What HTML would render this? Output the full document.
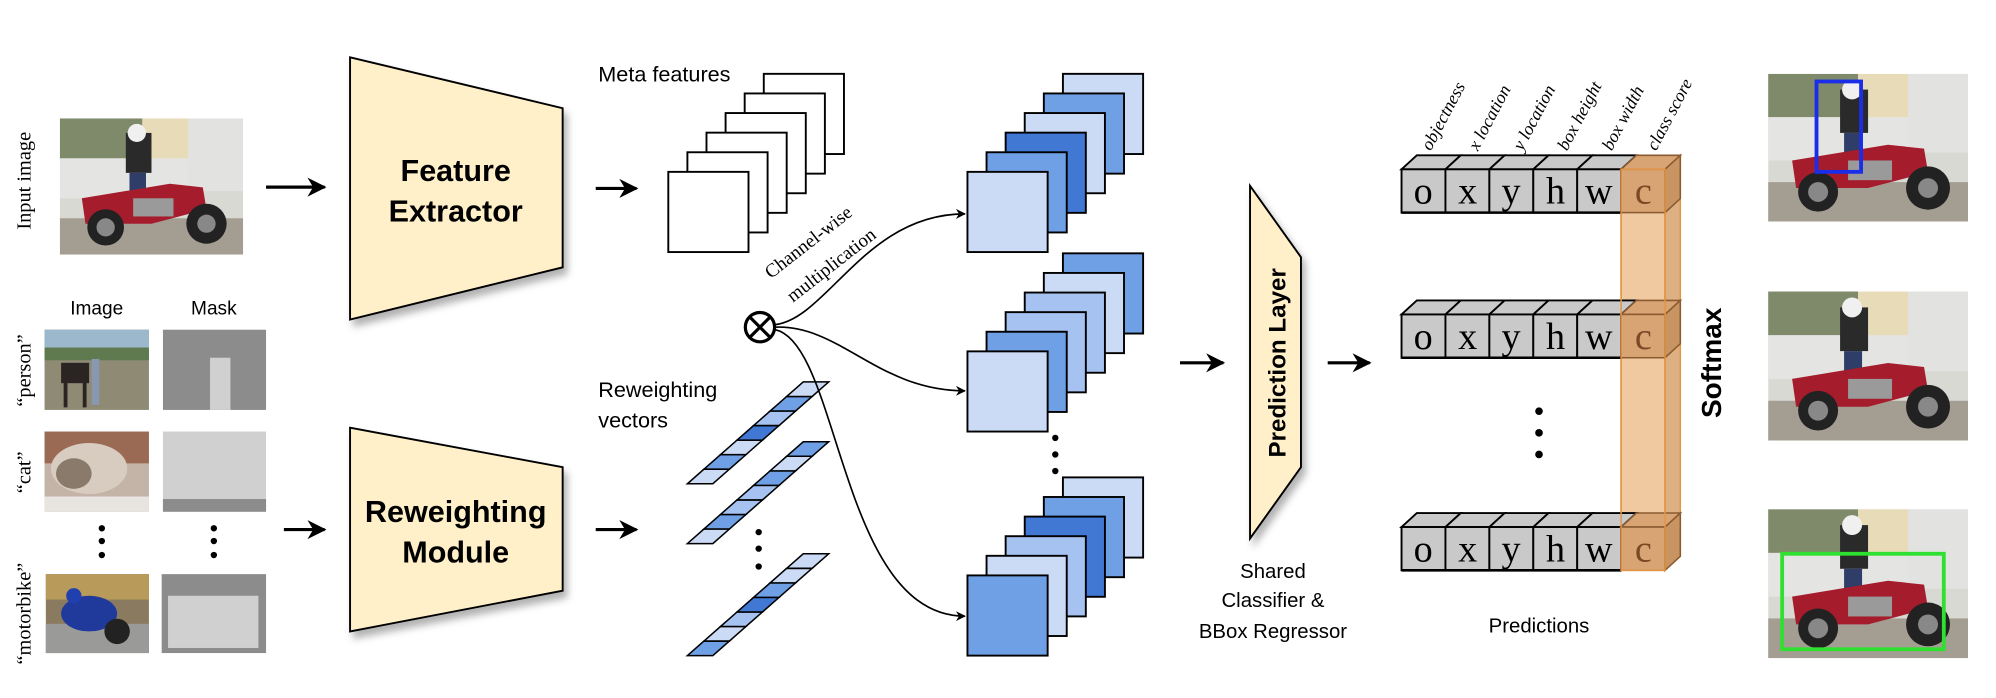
<!DOCTYPE html>
<html><head><meta charset="utf-8"><style>html,body{margin:0;padding:0;background:#fff}svg{display:block}</style></head>
<body>
<svg xmlns="http://www.w3.org/2000/svg" xmlns:xlink="http://www.w3.org/1999/xlink" width="1996" height="698" viewBox="0 0 1568 548.3" preserveAspectRatio="none" font-family="Liberation Sans, sans-serif">
<defs>
<marker id="ah" viewBox="0 0 10 10" refX="9" refY="5" markerWidth="6" markerHeight="6" orient="auto"><path d="M0,0 L10,5 L0,10 L3,5 z" fill="#000"/></marker>
<filter id="sh" x="-20%" y="-20%" width="150%" height="150%"><feDropShadow dx="3" dy="5" stdDeviation="3" flood-color="#000" flood-opacity="0.3"/></filter>
<symbol id="moto" viewBox="0 0 100 75" preserveAspectRatio="none">
<rect width="100" height="75" fill="#d9d9d4"/>
<rect x="0" y="0" width="45" height="22" fill="#7f8a6a"/>
<rect x="45" y="0" width="25" height="25" fill="#e8dcb8"/>
<rect x="70" y="0" width="30" height="40" fill="#e2e2e0"/>
<rect x="0" y="22" width="70" height="22" fill="#e4e4e2"/>
<rect x="0" y="55" width="100" height="20" fill="#a49d92"/>
<rect x="36" y="8" width="14" height="22" fill="#2a2a2a"/>
<circle cx="42" cy="8" r="5" fill="#f0f0f0"/>
<rect x="38" y="30" width="9" height="20" fill="#2e3e68"/>
<path d="M12 44 L60 36 L78 38 L80 50 L50 58 L14 58 z" fill="#a51c2c"/>
<circle cx="25" cy="60" r="10" fill="#222"/><circle cx="80" cy="58" r="11" fill="#222"/>
<circle cx="25" cy="60" r="5" fill="#888"/><circle cx="80" cy="58" r="5" fill="#888"/>
<rect x="40" y="44" width="22" height="10" fill="#9a9a9a"/>
</symbol>
</defs>

<text transform="translate(24,142) rotate(-90)" font-family="Liberation Serif, serif" font-size="16" text-anchor="middle">Input image</text>
<use xlink:href="#moto" x="47" y="93" width="144" height="107"/>
<text x="76" y="247" font-size="15" text-anchor="middle">Image</text>
<text x="168" y="247" font-size="15" text-anchor="middle">Mask</text>
<text transform="translate(24,291) rotate(-90)" font-family="Liberation Serif, serif" font-size="16" text-anchor="middle">“person”</text>
<text transform="translate(24,371) rotate(-90)" font-family="Liberation Serif, serif" font-size="16" text-anchor="middle">“cat”</text>
<text transform="translate(24,482) rotate(-90)" font-family="Liberation Serif, serif" font-size="16" text-anchor="middle">“motorbike”</text>
<rect x="35" y="259" width="82" height="63" fill="#8f8a74"/>
<rect x="35" y="259" width="82" height="22" fill="#9cb8cc"/>
<rect x="35" y="273" width="82" height="10" fill="#5e7a4e"/>
<rect x="48" y="285" width="22" height="16" fill="#2a2522"/>
<rect x="50" y="300" width="3" height="20" fill="#2a2522"/><rect x="65" y="300" width="3" height="20" fill="#2a2522"/>
<rect x="72" y="282" width="6" height="36" fill="#8898b0"/>
<rect x="128" y="259" width="81" height="63" fill="#8c8c8c"/>
<rect x="165" y="281" width="16" height="41" fill="#d0d0d0"/>
<rect x="35" y="339" width="82" height="63" fill="#c4b4a8"/>
<rect x="35" y="339" width="82" height="25" fill="#9a6a54"/>
<ellipse cx="70" cy="368" rx="30" ry="20" fill="#d8ccc0"/>
<ellipse cx="58" cy="372" rx="14" ry="12" fill="#8a7a6c"/>
<rect x="35" y="390" width="82" height="12" fill="#e8e4e0"/>
<rect x="128" y="339" width="81" height="63" fill="#d0d0d0"/>
<rect x="128" y="392" width="81" height="10" fill="#8c8c8c"/>
<g fill="#000"><circle cx="80" cy="415" r="2.5"/><circle cx="80" cy="425" r="2.5"/><circle cx="80" cy="436" r="2.5"/>
<circle cx="168" cy="415" r="2.5"/><circle cx="168" cy="425" r="2.5"/><circle cx="168" cy="436" r="2.5"/></g>
<rect x="36" y="451" width="81" height="62" fill="#8a7a60"/>
<rect x="36" y="451" width="81" height="20" fill="#b89a5a"/>
<rect x="36" y="490" width="81" height="23" fill="#9a9a98"/>
<ellipse cx="70" cy="482" rx="22" ry="14" fill="#1f3a9a"/>
<circle cx="58" cy="468" r="6" fill="#2040b0"/>
<circle cx="92" cy="496" r="10" fill="#222"/>
<rect x="127" y="451" width="82" height="62" fill="#8c8c8c"/>
<rect x="132" y="468" width="71" height="41" fill="#d0d0d0"/>

<g stroke="#000" stroke-width="2.5" marker-end="url(#ah)">
<line x1="209" y1="147" x2="255" y2="147"/>
<line x1="468" y1="148" x2="500" y2="148"/>
<line x1="223" y1="416" x2="255" y2="416"/>
<line x1="468" y1="416" x2="500" y2="416"/>
<line x1="927" y1="285" x2="961" y2="285"/>
<line x1="1043" y1="285" x2="1076" y2="285"/>
</g>

<polygon points="275,45 442,85 442,210 275,251" fill="#fff0c9" stroke="#000" stroke-width="1.5" filter="url(#sh)"/>
<text x="358" y="142" font-size="24" font-weight="bold" text-anchor="middle">Feature</text>
<text x="358" y="174" font-size="24" font-weight="bold" text-anchor="middle">Extractor</text>
<polygon points="275,336 442,367 442,464 275,496" fill="#fff0c9" stroke="#000" stroke-width="1.5" filter="url(#sh)"/>
<text x="358" y="410" font-size="24" font-weight="bold" text-anchor="middle">Reweighting</text>
<text x="358" y="442" font-size="24" font-weight="bold" text-anchor="middle">Module</text>

<text x="470" y="64" font-size="17">Meta features</text>
<g fill="#fff" stroke="#000" stroke-width="1.5">
<rect x="600" y="58" width="63" height="63"/><rect x="585" y="73.4" width="63" height="63"/><rect x="570" y="88.8" width="63" height="63"/>
<rect x="555" y="104.2" width="63" height="63"/><rect x="540" y="119.6" width="63" height="63"/><rect x="525" y="135" width="63" height="63"/>
</g>

<text x="470" y="312" font-size="17">Reweighting</text>
<text x="470" y="336" font-size="17">vectors</text>
<g stroke="#000" stroke-width="1.2">
<g transform="translate(540,380)">
<polygon points="0,0 20,0 33,-11.43 13,-11.43" fill="#cbdaf5"/>
<polygon points="13,-11.43 33,-11.43 46,-22.86 26,-22.86" fill="#6fa0e6"/>
<polygon points="26,-22.86 46,-22.86 59,-34.29 39,-34.29" fill="#cbdaf5"/>
<polygon points="39,-34.29 59,-34.29 72,-45.71 52,-45.71" fill="#4078d4"/>
<polygon points="52,-45.71 72,-45.71 85,-57.14 65,-57.14" fill="#a5c2f0"/>
<polygon points="65,-57.14 85,-57.14 98,-68.57 78,-68.57" fill="#6fa0e6"/>
<polygon points="78,-68.57 98,-68.57 111,-80 91,-80" fill="#cbdaf5"/>
</g>
<g transform="translate(540,427)">
<polygon points="0,0 20,0 33,-11.43 13,-11.43" fill="#cbdaf5"/>
<polygon points="13,-11.43 33,-11.43 46,-22.86 26,-22.86" fill="#6fa0e6"/>
<polygon points="26,-22.86 46,-22.86 59,-34.29 39,-34.29" fill="#a5c2f0"/>
<polygon points="39,-34.29 59,-34.29 72,-45.71 52,-45.71" fill="#a5c2f0"/>
<polygon points="52,-45.71 72,-45.71 85,-57.14 65,-57.14" fill="#6fa0e6"/>
<polygon points="65,-57.14 85,-57.14 98,-68.57 78,-68.57" fill="#cbdaf5"/>
<polygon points="78,-68.57 98,-68.57 111,-80 91,-80" fill="#6fa0e6"/>
</g>
<g transform="translate(540,515)">
<polygon points="0,0 20,0 33,-11.43 13,-11.43" fill="#6fa0e6"/>
<polygon points="13,-11.43 33,-11.43 46,-22.86 26,-22.86" fill="#cbdaf5"/>
<polygon points="26,-22.86 46,-22.86 59,-34.29 39,-34.29" fill="#a5c2f0"/>
<polygon points="39,-34.29 59,-34.29 72,-45.71 52,-45.71" fill="#4078d4"/>
<polygon points="52,-45.71 72,-45.71 85,-57.14 65,-57.14" fill="#6fa0e6"/>
<polygon points="65,-57.14 85,-57.14 98,-68.57 78,-68.57" fill="#cbdaf5"/>
<polygon points="78,-68.57 98,-68.57 111,-80 91,-80" fill="#cbdaf5"/>
</g>
</g>
<g fill="#000"><circle cx="596" cy="418" r="2.5"/><circle cx="596" cy="431" r="2.5"/><circle cx="596" cy="445" r="2.5"/></g>

<circle cx="597" cy="257" r="11.5" fill="#fff" stroke="#000" stroke-width="2.5"/>
<line x1="589" y1="249" x2="605" y2="265" stroke="#000" stroke-width="2.5"/>
<line x1="605" y1="249" x2="589" y2="265" stroke="#000" stroke-width="2.5"/>
<text transform="translate(638,194) rotate(-38)" font-family="Liberation Serif, serif" font-size="15" text-anchor="middle">Channel-wise</text>
<text transform="translate(656,212) rotate(-38)" font-family="Liberation Serif, serif" font-size="15" text-anchor="middle">multiplication</text>
<g fill="none" stroke="#000" stroke-width="1.3" marker-end="url(#ah)">
<path d="M609,255 C650,250 680,168 758,168"/>
<path d="M609,257 C660,255 690,307 758,307"/>
<path d="M609,259 C660,270 660,484 758,484"/>
</g>

<g stroke="#000" stroke-width="1.5">
<rect x="835" y="58" width="63" height="63" fill="#cbdaf5"/><rect x="820" y="73.4" width="63" height="63" fill="#6fa0e6"/>
<rect x="805" y="88.8" width="63" height="63" fill="#cbdaf5"/><rect x="790" y="104.2" width="63" height="63" fill="#4078d4"/>
<rect x="775" y="119.6" width="63" height="63" fill="#6fa0e6"/><rect x="760" y="135" width="63" height="63" fill="#cbdaf5"/>
<rect x="835" y="199" width="63" height="63" fill="#6fa0e6"/><rect x="820" y="214.4" width="63" height="63" fill="#cbdaf5"/>
<rect x="805" y="229.8" width="63" height="63" fill="#a5c2f0"/><rect x="790" y="245.2" width="63" height="63" fill="#a5c2f0"/>
<rect x="775" y="260.6" width="63" height="63" fill="#6fa0e6"/><rect x="760" y="276" width="63" height="63" fill="#cbdaf5"/>
<rect x="835" y="375" width="63" height="63" fill="#cbdaf5"/><rect x="820" y="390.4" width="63" height="63" fill="#6fa0e6"/>
<rect x="805" y="405.8" width="63" height="63" fill="#4078d4"/><rect x="790" y="421.2" width="63" height="63" fill="#a5c2f0"/>
<rect x="775" y="436.6" width="63" height="63" fill="#cbdaf5"/><rect x="760" y="452" width="63" height="63" fill="#6fa0e6"/>
</g>
<g fill="#000"><circle cx="829" cy="344" r="2.5"/><circle cx="829" cy="357" r="2.5"/><circle cx="829" cy="370" r="2.5"/></g>

<polygon points="982,146 1022,202 1022,367 982,423" fill="#fff0c9" stroke="#000" stroke-width="1.5" filter="url(#sh)"/>
<text transform="translate(1010,285) rotate(-90)" font-size="19" font-weight="bold" text-anchor="middle">Prediction Layer</text>
<text x="1000" y="454" font-size="16" text-anchor="middle">Shared</text>
<text x="1000" y="477" font-size="16" text-anchor="middle">Classifier &amp;</text>
<text x="1000" y="501" font-size="16" text-anchor="middle">BBox Regressor</text>

<rect x="1273.5" y="133" width="34.5" height="315" fill="#f1c9a0" stroke="#e39645" stroke-width="1.2"/>
<polygon points="1308,133 1320,122 1320,437 1308,448" fill="#ddb083" stroke="#e39645" stroke-width="1.2"/>
<polygon points="1273.5,133 1285.5,122 1320,122 1308,133" fill="#e8b889" stroke="#e39645" stroke-width="1.2"/>

<g id="row1" transform="translate(0,133)">
<g stroke="#000" stroke-width="1.5" fill="#c9c9c9">
<polygon points="1101,0 1113,-11 1147.5,-11 1135.5,0"/><polygon points="1135.5,0 1147.5,-11 1182,-11 1170,0"/>
<polygon points="1170,0 1182,-11 1216.5,-11 1204.5,0"/><polygon points="1204.5,0 1216.5,-11 1251,-11 1239,0"/>
<polygon points="1239,0 1251,-11 1285.5,-11 1273.5,0"/>
<rect x="1101" y="0" width="34.5" height="34"/><rect x="1135.5" y="0" width="34.5" height="34"/>
<rect x="1170" y="0" width="34.5" height="34"/><rect x="1204.5" y="0" width="34.5" height="34"/>
<rect x="1239" y="0" width="34.5" height="34"/>
</g>
<g stroke="#8a5a30" stroke-width="1.2">
<polygon points="1273.5,0 1285.5,-11 1320,-11 1308,0" fill="#d9a474"/>
<rect x="1273.5" y="0" width="34.5" height="34" fill="#d9a474"/>
<polygon points="1308,0 1320,-11 1320,23 1308,34" fill="#c89462"/>
</g>
<g font-family="Liberation Serif, serif" font-size="30" text-anchor="middle">
<text x="1118" y="27">o</text><text x="1153" y="27">x</text><text x="1187" y="27">y</text><text x="1222" y="27">h</text><text x="1256" y="27">w</text><text x="1291" y="27" fill="#7a4a25">c</text>
</g>
<line x1="1101" y1="34" x2="1273.5" y2="34" stroke="#000" stroke-width="2"/>
</g>
<use xlink:href="#row1" y="114"/>
<use xlink:href="#row1" y="281"/>
<rect x="1273.5" y="133" width="34.5" height="315" fill="none" stroke="#e39645" stroke-width="1.2"/>

<g fill="#000"><circle cx="1209" cy="323" r="3"/><circle cx="1209" cy="340" r="3"/><circle cx="1209" cy="357" r="3"/></g>
<text x="1209" y="497" font-size="16" text-anchor="middle">Predictions</text>

<g font-family="Liberation Serif, serif" font-style="italic" font-size="14">
<text transform="translate(1124,119) rotate(-62)">objectness</text>
<text transform="translate(1161,119) rotate(-62)">x location</text>
<text transform="translate(1196,119) rotate(-62)">y location</text>
<text transform="translate(1231,119) rotate(-62)">box height</text>
<text transform="translate(1266,119) rotate(-62)">box width</text>
<text transform="translate(1301,119) rotate(-62)">class score</text>
</g>

<text transform="translate(1352,285) rotate(-90)" font-size="22" font-weight="bold" text-anchor="middle">Softmax</text>

<use xlink:href="#moto" x="1389" y="58" width="157" height="116"/>
<rect x="1427" y="64" width="35" height="71" fill="none" stroke="#1a2ee8" stroke-width="3"/>
<use xlink:href="#moto" x="1389" y="229" width="157" height="117"/>
<use xlink:href="#moto" x="1389" y="400" width="157" height="117"/>
<rect x="1400" y="435" width="127" height="75" fill="none" stroke="#30e030" stroke-width="3"/>
</svg>
</body></html>
